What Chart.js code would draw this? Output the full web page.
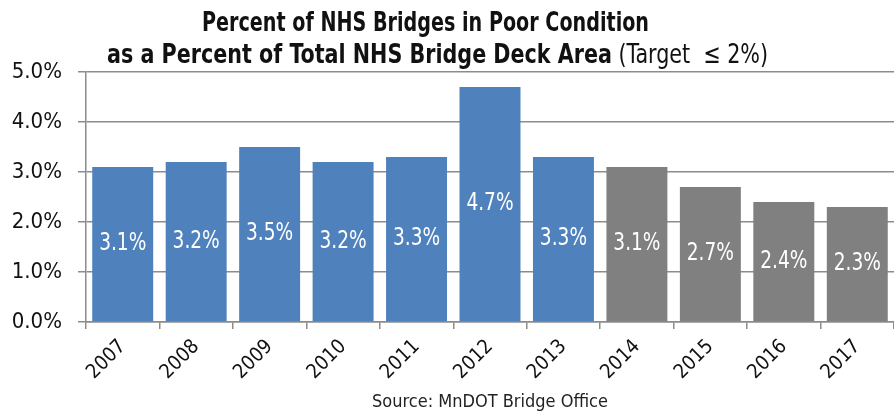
<!DOCTYPE html>
<html><head><meta charset="utf-8">
<script src="https://cdn.jsdelivr.net/npm/chart.js@4"></script>
<style>html,body{margin:0;padding:0;background:#fff;overflow:hidden}#wrap{width:894px;height:415px;position:relative}</style>
</head><body><div id="wrap"><canvas id="c" width="894" height="415"></canvas></div>
<script>
const categories = ['2007','2008','2009','2010','2011','2012','2013','2014','2015','2016','2017'];
const values = [3.1, 3.2, 3.5, 3.2, 3.3, 4.7, 3.3, 3.1, 2.7, 2.4, 2.3];
const barColors = ['#4F81BD','#4F81BD','#4F81BD','#4F81BD','#4F81BD','#4F81BD','#4F81BD','#808080','#808080','#808080','#808080'];
const yTicks = [0,1,2,3,4,5];
const titleLine1 = 'Percent of NHS Bridges in Poor Condition';
const titleLine2Bold = 'as a Percent of Total NHS Bridge Deck Area';
const titleLine2Normal = ' (Target  \u2264 2%)';
const sourceText = 'Source: MnDOT Bridge Office';

const FONT = '"Liberation Sans Narrow","Arial Narrow","DejaVu Sans Condensed",sans-serif';

function drawSquished(ctx, parts, left, right, baseline) {
  // parts: [{text, font}]
  let total = 0;
  parts.forEach(p => { ctx.font = p.font; p.w = ctx.measureText(p.text).width; total += p.w; });
  const sx = (right - left) / total;
  ctx.save();
  ctx.translate(left, baseline);
  ctx.scale(sx, 1);
  ctx.textAlign = 'left';
  ctx.textBaseline = 'alphabetic';
  let x = 0;
  parts.forEach(p => { ctx.font = p.font; ctx.fillText(p.text, x, 0); x += p.w; });
  ctx.restore();
}

const textPlugin = {
  id: 'texts',
  afterDatasetsDraw(chart) {
    const ctx = chart.ctx;
    const meta = chart.getDatasetMeta(0);
    meta.data.forEach((bar, i) => {
      const y = (bar.y + bar.base) / 2;
      ctx.save();
      ctx.fillStyle = '#ffffff';
      ctx.font = '24px ' + FONT;
      ctx.textAlign = 'center';
      ctx.textBaseline = 'middle';
      ctx.translate(bar.x, y);
      ctx.scale(0.86, 1);
      ctx.fillText(values[i].toFixed(1) + '%', 0, 0);
      ctx.restore();
    });
  },
  afterDraw(chart) {
    const ctx = chart.ctx;
    ctx.save();
    ctx.fillStyle = '#111';
    drawSquished(ctx, [{ text: titleLine1, font: 'bold 27px ' + FONT }], 202, 649, 31);
    drawSquished(ctx, [
      { text: titleLine2Bold, font: 'bold 27px ' + FONT },
      { text: titleLine2Normal, font: '27px ' + FONT }
    ], 107, 768, 63);
    ctx.textAlign = 'center';
    ctx.textBaseline = 'alphabetic';
    ctx.font = '18px ' + FONT;
    ctx.fillStyle = '#222';
    ctx.fillText(sourceText, 490, 407);
    ctx.restore();
  }
};

new Chart(document.getElementById('c'), {
  type: 'bar',
  data: {
    labels: categories,
    datasets: [{ data: values, backgroundColor: barColors, borderWidth: 0, categoryPercentage: 0.83, barPercentage: 1.0 }]
  },
  options: {
    responsive: false,
    animation: false,
    devicePixelRatio: 1,
    layout: { padding: { top: 72, right: 0, left: 0, bottom: 0 } },
    plugins: { legend: { display: false }, tooltip: { enabled: false }, title: { display: false } },
    scales: {
      y: {
        min: 0, max: 5,
        afterFit(s) { s.width = 86; },
        afterBuildTicks(s) { s.ticks = yTicks.map(v => ({ value: v })); },
        ticks: { callback: v => v.toFixed(1) + '%', color: '#111', font: { family: FONT, size: 22 }, padding: 16 },
        grid: { color: '#8c8c8c', lineWidth: 1.5, tickLength: 8 },
        border: { color: '#8c8c8c', width: 1.5 }
      },
      x: {
        afterFit(s) { s.height = 93; },
        ticks: { color: '#111', font: { family: FONT, size: 20 }, minRotation: 45, maxRotation: 45, padding: 6 },
        grid: { drawOnChartArea: false, color: '#8c8c8c', lineWidth: 1.5, tickLength: 7, offset: true },
        border: { color: '#8c8c8c', width: 1.5 }
      }
    }
  },
  plugins: [textPlugin]
});
</script></body></html>
